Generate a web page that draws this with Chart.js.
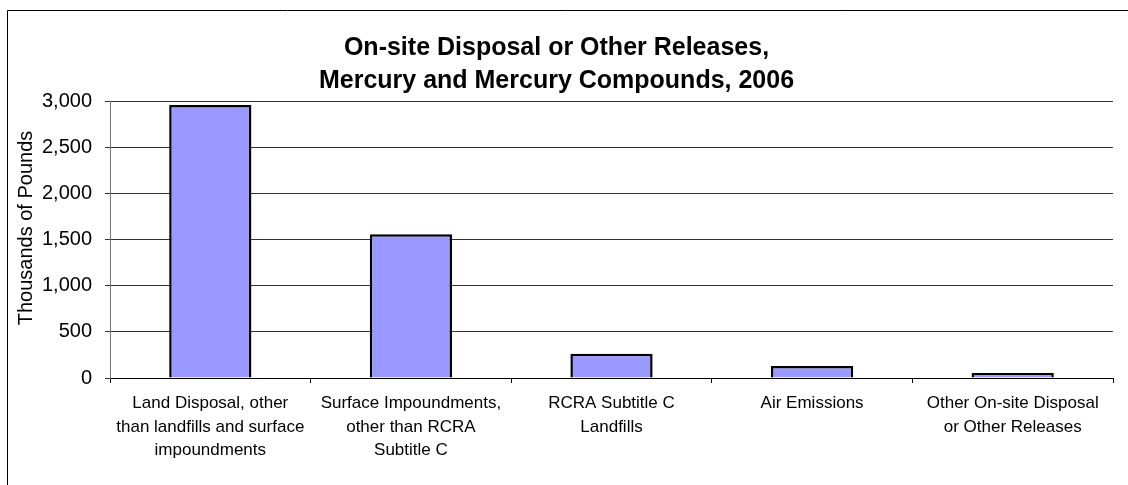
<!DOCTYPE html>
<html>
<head>
<meta charset="utf-8">
<script src="https://cdn.jsdelivr.net/npm/chart.js@4/dist/chart.umd.min.js"></script>
<style>
  html, body { margin: 0; padding: 0; background: #fff; }
  #wrap { width: 1128px; height: 485px; position: relative; }
</style>
</head>
<body>
<div id="wrap"><canvas id="grafik" width="1128" height="485"></canvas></div>
<script>
const kategori = [
  ["Land Disposal, other", "than landfills and surface", "impoundments"],
  ["Surface Impoundments,", "other than RCRA", "Subtitle C"],
  ["RCRA Subtitle C", "Landfills"],
  ["Air Emissions"],
  ["Other On-site Disposal", "or Other Releases"]
];
const nilai = [2958, 1558, 262, 130, 55];
const judul = ["On-site Disposal or Other Releases,", "Mercury and Mercury Compounds, 2006"];
const judulSumbuY = "Thousands of Pounds";

const fontArial = "'Liberation Sans', Arial, sans-serif";

// garis bingkai luar + judul sumbu Y (digeser sedikit ke atas seperti aslinya)
const bingkai = {
  id: "bingkai",
  afterDraw(chart) {
    const ctx = chart.ctx;
    ctx.save();
    ctx.strokeStyle = "#000";
    ctx.lineWidth = 1;
    ctx.beginPath();
    ctx.moveTo(7.5, 485);
    ctx.lineTo(7.5, 10.5);
    ctx.lineTo(1128, 10.5);
    ctx.stroke();

    ctx.translate(26, 228);
    ctx.rotate(-Math.PI / 2);
    ctx.fillStyle = "#000";
    ctx.font = "20px " + fontArial;
    ctx.textAlign = "center";
    ctx.textBaseline = "middle";
    ctx.fillText(judulSumbuY, 0, 0);
    ctx.restore();
  }
};

new Chart(document.getElementById("grafik"), {
  type: "bar",
  data: {
    labels: kategori,
    datasets: [{
      data: nilai,
      backgroundColor: "#9999FF",
      borderColor: "#000",
      borderWidth: 2.5,
      barPercentage: 0.41,
      categoryPercentage: 1
    }]
  },
  options: {
    responsive: false,
    animation: false,
    layout: { padding: { left: 0, right: 15, top: 0, bottom: 0 } },
    plugins: {
      legend: { display: false },
      tooltip: { enabled: false },
      title: {
        display: true,
        text: judul,
        color: "#000",
        font: { family: fontArial, size: 25, weight: "bold", lineHeight: 1.3 },
        padding: { top: 32, bottom: 4 }
      }
    },
    scales: {
      x: {
        afterFit: (scale) => { scale.height = 107; },
        grid: { drawOnChartArea: false, drawTicks: true, tickLength: 5, color: "#000" },
        border: { color: "#000", width: 1 },
        ticks: {
          color: "#000",
          font: { family: fontArial, size: 17, lineHeight: 1.38 },
          padding: 9,
          maxRotation: 0,
          autoSkip: false
        }
      },
      y: {
        min: 0,
        max: 3000,
        afterFit: (scale) => { scale.width = 110; },
        grid: { color: "#333", tickLength: 5, drawTicks: true },
        border: { color: "#777", width: 1 },
        ticks: {
          stepSize: 500,
          color: "#000",
          padding: 13,
          font: { family: fontArial, size: 20 },
          callback: (v) => v.toLocaleString("en-US")
        }
      }
    }
  },
  plugins: [bingkai]
});
</script>
</body>
</html>
